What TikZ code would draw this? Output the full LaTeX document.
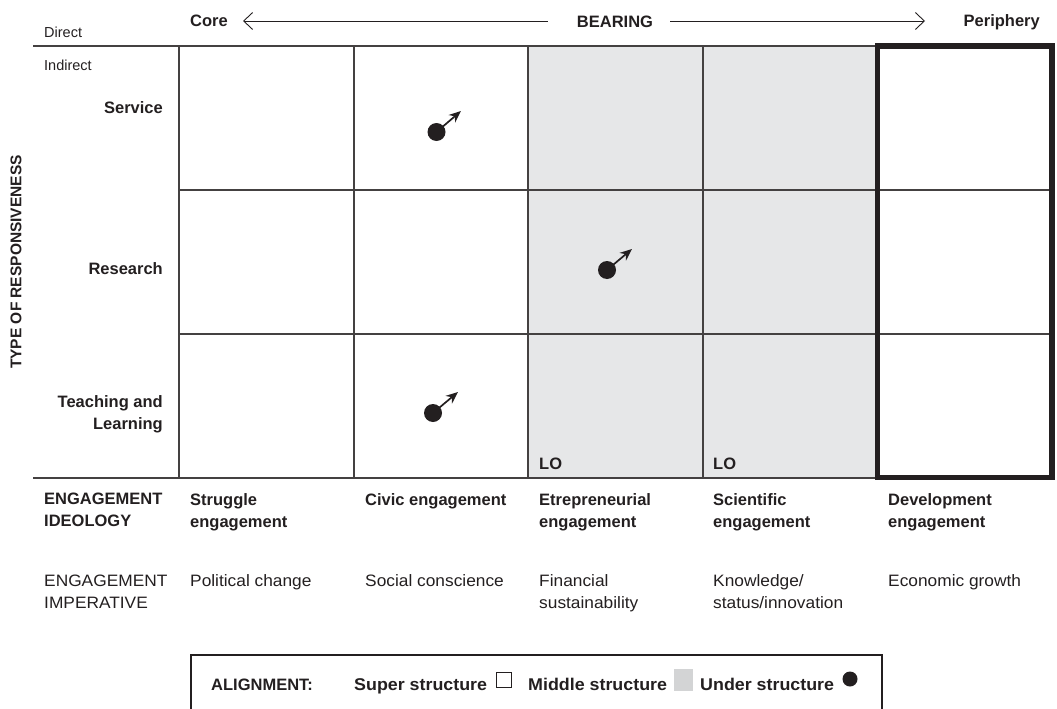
\documentclass[tikz,border=0pt]{standalone}
\usepackage{fontspec}
\setmainfont{Liberation Sans}
\newfontfamily\regfont[FakeStretch=1.05]{Liberation Sans}
\newfontfamily\legfont[FakeStretch=1.05]{Liberation Sans}
\usetikzlibrary{arrows.meta}
\definecolor{midgray}{HTML}{E6E7E8}
\definecolor{leggray}{HTML}{D3D4D5}
\definecolor{ink}{HTML}{231F20}
\begin{document}
\begin{tikzpicture}[x=1pt,y=-1pt,
  txt/.style={inner sep=0pt, text=ink, align=left, font=\regfont\fontsize{16.5}{22}\selectfont},
  btxt/.style={inner sep=0pt, text=ink, align=left, font=\fontsize{16.5}{22}\selectfont\bfseries},
  small/.style={inner sep=0pt, text=ink, font=\fontsize{14.5}{18}\selectfont},
  legtxt/.style={inner sep=0pt, text=ink, font=\legfont\bfseries\fontsize{17}{20}\selectfont},
  gridline/.style={draw=ink!85, line width=1.4pt},
  thickbox/.style={draw=ink, line width=5.5pt},
  dot/.style={circle, fill=ink, inner sep=0pt, minimum size=18pt},
  push/.style={-{Stealth[length=12pt,width=10pt]}, line width=1.7pt, draw=ink, shorten <=-1pt},
  bear/.style={draw=ink, line width=0.9pt}
]
\path[use as bounding box] (0,0) rectangle (1057,709);

% middle structure shading
\fill[midgray] (528,46) rectangle (877,478);

% grid
\draw[gridline] (33,46) -- (877,46);
\draw[gridline] (33,478) -- (877,478);
\draw[gridline] (179,190) -- (1052,190);
\draw[gridline] (179,334) -- (1052,334);
\foreach \xx in {179,354,528,703} \draw[gridline] (\xx,46) -- (\xx,478);
\draw[thickbox] (877.5,46) rectangle (1052,477.5);

% top bearing axis
\node[small, anchor=base west] (direct) at (44,37.5) {Direct};
\node[small, anchor=base west] (indirect) at (44,70.5) {Indirect};
\node[btxt, anchor=base west] (core) at (190,26.5) {Core};
\node[btxt, anchor=base] (bearing) at (615,27.5) {BEARING};
\node[btxt, anchor=base east] (periph) at (1040,26.5) {Periphery};
\coordinate (la) at (243,21);
\coordinate (lb) at (548,21);
\coordinate (ra) at (670,21);
\coordinate (rb) at (925,21);
\draw[bear, {Straight Barb[length=9pt,width=17pt]}-] (la) -- (lb);
\draw[bear, -{Straight Barb[length=9pt,width=17pt]}] (ra) -- (rb);

% left labels
\node[btxt, anchor=center, rotate=90, font=\fontsize{15.5}{18}\selectfont\bfseries] (type) at (16,262) {TYPE OF RESPONSIVENESS};
\node[btxt, anchor=base east] (service) at (163,113) {Service};
\node[btxt, anchor=base east] (research) at (163,274) {Research};
\node[btxt, anchor=north east, align=right] (teach) at (163,395) {Teaching and\\Learning};

% dots with arrows
\node[dot] (d1) at (436.5,132) {};
\coordinate (t1) at (461,111);
\draw[push] (d1) -- (t1);
\node[dot] (d2) at (607,270) {};
\coordinate (t2) at (632,249);
\draw[push] (d2) -- (t2);
\node[dot] (d3) at (433,413) {};
\coordinate (t3) at (458,392);
\draw[push] (d3) -- (t3);

% LO labels
\node[btxt, anchor=base west] (lo1) at (539,469.5) {LO};
\node[btxt, anchor=base west] (lo2) at (713,469.5) {LO};

% engagement ideology row
\node[btxt, anchor=north west] (ideo) at (44,493) {ENGAGEMENT\\IDEOLOGY};
\node[btxt, anchor=north west] (i1) at (190,493) {Struggle\\engagement};
\node[btxt, anchor=north west] (i2) at (365,493) {Civic engagement};
\node[btxt, anchor=north west] (i3) at (539,493) {Etrepreneurial\\engagement};
\node[btxt, anchor=north west] (i4) at (713,493) {Scientific\\engagement};
\node[btxt, anchor=north west] (i5) at (888,493) {Development\\engagement};

% engagement imperative row
\node[txt, anchor=north west] (imp) at (44,574.5) {ENGAGEMENT\\IMPERATIVE};
\node[txt, anchor=north west] (m1) at (190,574.5) {Political change};
\node[txt, anchor=north west] (m2) at (365,574.5) {Social conscience};
\node[txt, anchor=north west] (m3) at (539,574.5) {Financial\\sustainability};
\node[txt, anchor=north west] (m4) at (713,574.5) {Knowledge/\\status/innovation};
\node[txt, anchor=north west] (m5) at (888,574.5) {Economic growth};

% legend
\draw[draw=ink, line width=1.1pt] (191,709) -- (191,655) -- (882,655) -- (882,709);
\node[inner sep=0pt, text=ink, font=\bfseries\fontsize{16.5}{20}\selectfont, anchor=base west] (al) at (211,690) {ALIGNMENT:};
\node[legtxt, anchor=base west] (sup) at (354,690) {Super structure};
\node[draw=ink, line width=1.6pt, minimum size=15pt, inner sep=0pt] (sq1) at (504,680) {};
\node[legtxt, anchor=base west] (mid) at (528,690) {Middle structure};
\node[fill=leggray, minimum width=19pt, minimum height=22pt, inner sep=0pt] (sq2) at (683,680) {};
\node[legtxt, anchor=base west] (und) at (700,690) {Under structure};
\node[dot, minimum size=15pt] (sq3) at (850,679) {};
\end{tikzpicture}
\end{document}
